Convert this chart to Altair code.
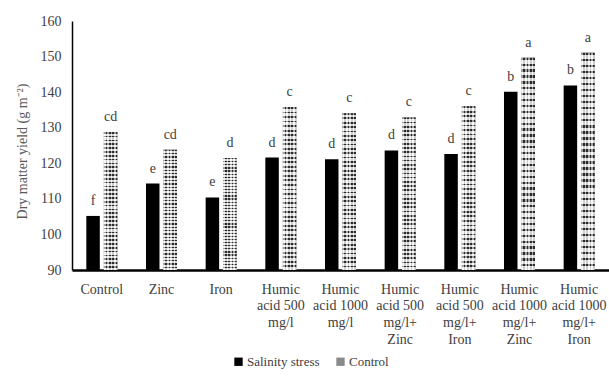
import altair as alt
import pandas as pd

# Treatments (x-axis), with explicit line breaks for the wrapped labels
categories = [
    "Control",
    "Zinc",
    "Iron",
    "Humic\nacid 500\nmg/l",
    "Humic\nacid 1000\nmg/l",
    "Humic\nacid 500\nmg/l+\nZinc",
    "Humic\nacid 500\nmg/l+\nIron",
    "Humic\nacid 1000\nmg/l+\nZinc",
    "Humic\nacid 1000\nmg/l+\nIron",
]
series = ["Salinity stress", "Control"]

# Dry matter yield (g m-2)
salinity_values = [105.2, 114.3, 110.4, 121.6, 121.1, 123.6, 122.6, 140.1, 141.9]
control_values = [128.8, 123.8, 121.5, 135.8, 134.1, 132.9, 136.0, 149.7, 151.1]

# Mean-separation letters
salinity_letters = ["f", "e", "e", "d", "d", "d", "d", "b", "b"]
control_letters = ["cd", "cd", "d", "c", "c", "c", "c", "a", "a"]

rows = []
for c, v, l in zip(categories, salinity_values, salinity_letters):
    rows.append({"treatment": c, "series": series[0], "value": v, "letter": l})
for c, v, l in zip(categories, control_values, control_letters):
    rows.append({"treatment": c, "series": series[1], "value": v, "letter": l})
df = pd.DataFrame(rows)

FONT = "Liberation Serif"
TXT = "#404040"
Y_MIN = 90

# Hatched fill for the control bars: horizontal stripes plus a vertical overlay
h_stops = []
n = 36
for i in range(n):
    a, m, b = i / n, (i + 0.4) / n, (i + 1) / n
    h_stops += [
        alt.GradientStop(offset=a, color="#333333"),
        alt.GradientStop(offset=m, color="#333333"),
        alt.GradientStop(offset=m, color="#f2f2f2"),
        alt.GradientStop(offset=b, color="#f2f2f2"),
    ]
hatch_h = alt.LinearGradient(gradient="linear", stops=h_stops, x1=0, x2=0, y1=0, y2=1)

v_stops = []
k = 4
for i in range(k):
    a, m, b = i / k, (i + 0.5) / k, (i + 1) / k
    v_stops += [
        alt.GradientStop(offset=a, color="rgba(255,255,255,0.55)"),
        alt.GradientStop(offset=m, color="rgba(255,255,255,0.55)"),
        alt.GradientStop(offset=m, color="rgba(0,0,0,0.15)"),
        alt.GradientStop(offset=b, color="rgba(0,0,0,0.15)"),
    ]
hatch_v = alt.LinearGradient(gradient="linear", stops=v_stops, x1=0, x2=1, y1=0, y2=0)

x_enc = alt.X(
    "treatment:N",
    sort=categories,
    scale=alt.Scale(paddingInner=0.48, paddingOuter=0.24),
    axis=alt.Axis(
        title=None,
        labelAngle=0,
        labelExpr="split(datum.label, '\\n')",
        labelFont=FONT,
        labelFontSize=14,
        labelColor=TXT,
        labelLineHeight=16.7,
        labelBaseline="top",
        labelPadding=12,
        ticks=False,
        domainColor="black",
        domainWidth=2.5,
    ),
)
xoff = alt.XOffset(
    "series:N", sort=series, scale=alt.Scale(domain=series, paddingInner=0.23)
)
y_enc = alt.Y(
    "value:Q",
    scale=alt.Scale(domain=[Y_MIN, 160], nice=False),
    axis=alt.Axis(
        title="Dry matter yield (g m⁻²)",
        values=[90, 100, 110, 120, 130, 140, 150, 160],
        grid=False,
        ticks=False,
        labelFont=FONT,
        labelFontSize=14,
        labelColor=TXT,
        labelPadding=11,
        domainColor="black",
        domainWidth=1.5,
        titleFont=FONT,
        titleFontSize=14,
        titleFontWeight="normal",
        titleColor="#595959",
        titleAngle=-90,
        titleX=-50,
        titleY=130,
        titleAlign="center",
        titleBaseline="middle",
    ),
)
y2_enc = alt.datum(Y_MIN)

base = alt.Chart(df)

bars = base.mark_bar().encode(
    x=x_enc,
    xOffset=xoff,
    y=y_enc,
    y2=y2_enc,
    color=alt.Color(
        "series:N",
        sort=series,
        scale=alt.Scale(domain=series, range=["#000000", "#8a8a8a"]),
        legend=alt.Legend(
            title=None,
            orient="none",
            direction="horizontal",
            legendX=160,
            legendY=334,
            symbolType="square",
            symbolSize=70,
            symbolStrokeWidth=0,
            labelFont=FONT,
            labelFontSize=13,
            labelColor=TXT,
            columnPadding=14,
            labelOffset=2,
        ),
    ),
)

ctrl = base.transform_filter(alt.datum.series == "Control")
hatch1 = ctrl.mark_bar(fill=hatch_h).encode(x=x_enc, xOffset=xoff, y=y_enc, y2=y2_enc)
hatch2 = ctrl.mark_bar(fill=hatch_v).encode(x=x_enc, xOffset=xoff, y=y_enc, y2=y2_enc)

labels = base.mark_text(
    font=FONT, fontSize=14, color=TXT, baseline="alphabetic", dy=-11
).encode(x=x_enc, xOffset=xoff, y=y_enc, text="letter:N")

chart = (
    alt.layer(bars, hatch1, hatch2, labels)
    .properties(
        width=537,
        height=249,
        padding={"left": 72, "top": 21, "right": 0, "bottom": 112},
        autosize=alt.AutoSizeParams(type="none"),
        background="white",
    )
    .configure(font=FONT)
    .configure_axis(labelFont=FONT, titleFont=FONT)
    .configure_legend(labelFont=FONT)
    .configure_view(stroke=None)
)

chart.save("out.html", embed_options={"renderer": "svg", "actions": False})
